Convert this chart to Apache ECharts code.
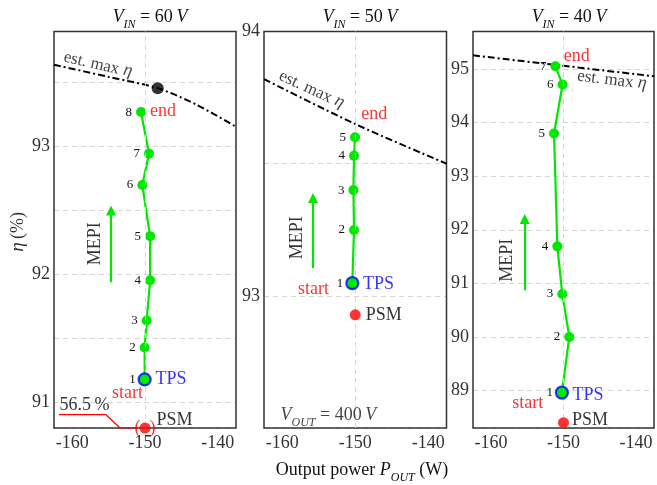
<!DOCTYPE html>
<html>
<head>
<meta charset="utf-8">
<script src="https://cdn.jsdelivr.net/npm/echarts@6/dist/echarts.min.js"></script>
<style>
  html, body { margin: 0; background: #fff; }
  #chart { width: 657px; height: 485px; }
</style>
</head>
<body>
<div id="chart"></div>
<script>
// MEPI steps (output power W, efficiency %) for each input voltage
const steps60 = [[-150.05, 91.18], [-150.05, 91.43], [-149.77, 91.64], [-149.3, 91.955],
  [-149.3, 92.30], [-150.37, 92.70], [-149.45, 92.945], [-150.55, 93.27]];
const steps50 = [[-150.4, 93.048], [-150.17, 93.249], [-150.25, 93.40], [-150.17, 93.53], [-150.03, 93.60]];
const steps40 = [[-150.22, 88.96], [-149.2, 90.0], [-150.17, 90.80], [-150.85, 91.69],
  [-151.31, 93.796], [-150.13, 94.71], [-151.12, 95.05]];

// PSM operating points
const psm60 = [[-150, 90.8]];
const psm50 = [[-150, 92.928]];
const psm40 = [[-150, 88.40]];

// estimated max efficiency curves
const maxEta60 = [[-162.5, 93.64], [-155, 93.545], [-148.25, 93.456], [-143, 93.33], [-137.5, 93.155]];
const maxEta50 = [[-162.5, 93.82], [-150, 93.65], [-137.5, 93.50]];
const maxEta40 = [[-162.5, 95.255], [-137.5, 94.864]];
const maxPoint60 = [[-148.25, 93.456]];

// off-scale marker for PSM at 60 V (56.5 %)
const offScale60 = [[-161.81, 90.904], [-155.36, 90.904], [-153.43, 90.8], [-151.1, 90.8]];

// MEPI arrows [x, yStart, yEnd]
const arrows = [[-154.67, 91.94, 92.50], [-155.79, 93.105, 93.37], [-155.35, 90.87, 92.2]];

// axis ranges
const xRange = [-162.5, -137.5];
const yRanges = [[90.8, 93.9], [92.5, 94], [88.3, 95.7]];
const yGridStep = [0.5, 0.5, 1];
const titles = ['60', '50', '40'];

// text annotations [x, y, text, kind, rotate]
const notes60 = [
  [-156.46, 93.64, 'est. max {i|η}', 'est', -13],
  [-147.53, 93.28, 'end', 'red', 0],
  [-146.43, 91.18, 'TPS', 'blue', 0],
  [-152.4, 91.07, 'start', 'red', 0],
  [-145.95, 90.857, 'PSM', 'black', 0],
  [-158.31, 90.98, '56.5\u2009%', 'black', 0],
  [-156.87, 92.24, 'MEPI', 'black', 90],
  [-150, 90.8, '(\u2002)', 'red', 0]
];
const notes50 = [
  [-156.0, 93.78, 'est. max {i|η}', 'est', -25],
  [-147.4, 93.685, 'end', 'red', 0],
  [-146.8, 93.044, 'TPS', 'blue', 0],
  [-155.72, 93.023, 'start', 'red', 0],
  [-146.1, 92.928, 'PSM', 'black', 0],
  [-158.0, 93.22, 'MEPI', 'black', 90],
  [-153.68, 92.544, '{i|V}{s|OUT}{n| = 400\u2009}{i|V}', 'black', 0]
];
const notes40 = [
  [-143.3, 94.79, 'est. max {i|η}', 'est', -7],
  [-148.18, 95.24, 'end', 'red', 0],
  [-146.6, 88.92, 'TPS', 'blue', 0],
  [-154.94, 88.765, 'start', 'red', 0],
  [-146.35, 88.44, 'PSM', 'black', 0],
  [-157.75, 91.43, 'MEPI', 'black', 90]
];

const FONT = 'Liberation Serif';
const GREEN = '#00e800';
const rich = {
  i: { fontFamily: FONT, fontSize: 18, fontStyle: 'italic', fontWeight: 'normal', color: '#111', lineHeight: 20, verticalAlign: 'top' },
  n: { fontFamily: FONT, fontSize: 18, fontWeight: 'normal', color: '#111', lineHeight: 20, verticalAlign: 'top' },
  s: { fontFamily: FONT, fontSize: 12, fontStyle: 'italic', fontWeight: 'normal', color: '#111', lineHeight: 12, padding: [13, 0, 0, 0] }
};
const noteColor = { red: '#f00', blue: '#00f', black: '#000', est: '#111' };

const chart = echarts.init(document.getElementById('chart'));

const grids = [
  { left: 54, top: 31.5, width: 182, height: 396.5 },
  { left: 264, top: 31.5, width: 182.5, height: 396.5 },
  { left: 473, top: 31.5, width: 183, height: 396.5 }
].map(g => Object.assign(g, { show: true, borderColor: '#333', borderWidth: 1.5, z: 1 }));

const isInt = v => Math.abs(v - Math.round(v)) < 1e-6;

const xAxes = [0, 1, 2].map(i => ({
  type: 'value', gridIndex: i, min: xRange[0], max: xRange[1],
  minInterval: 10, maxInterval: 10,
  axisLine: { show: false }, axisTick: { show: false }, splitLine: { show: false },
  axisLabel: {
    fontFamily: FONT, fontSize: 18, color: '#333', margin: 6,
    formatter: v => (Math.abs(v % 10) < 1e-6 ? String(v) : '')
  }
}));

const yAxes = [0, 1, 2].map(i => ({
  type: 'value', gridIndex: i, min: yRanges[i][0], max: yRanges[i][1],
  minInterval: yGridStep[i], maxInterval: yGridStep[i],
  axisLine: { show: false }, axisTick: { show: false },
  splitLine: { show: true, lineStyle: { color: '#d6d6d6', width: 1, type: [5, 4] } },
  axisLabel: {
    fontFamily: FONT, fontSize: 18, color: '#333', margin: 4,
    formatter: v => (isInt(v) ? String(Math.round(v)) : '')
  }
}));

const allSteps = [steps60, steps50, steps40];
const allPsm = [psm60, psm50, psm40];
const allMax = [maxEta60, maxEta50, maxEta40];
const allNotes = [notes60, notes50, notes40];

const series = [];
for (let i = 0; i < 3; i++) {
  const ax = { xAxisIndex: i, yAxisIndex: i };
  // vertical reference line at -150 W
  series.push(Object.assign({
    type: 'line', data: [], z: 1, silent: true,
    markLine: {
      silent: true, symbol: 'none', label: { show: false },
      lineStyle: { color: '#d6d6d6', width: 1, type: [5, 4] },
      data: [{ xAxis: -150 }]
    }
  }, ax));
  // MEPI arrow
  series.push(Object.assign({
    type: 'line', data: [], z: 3, silent: true,
    markLine: {
      silent: true, symbol: ['none', 'triangle'], symbolSize: 10, label: { show: false },
      lineStyle: { color: GREEN, width: 2.2, type: 'solid' },
      itemStyle: { color: GREEN },
      data: [[{ coord: [arrows[i][0], arrows[i][1]] }, { coord: [arrows[i][0], arrows[i][2]] }]]
    }
  }, ax));
  // estimated max efficiency
  series.push(Object.assign({
    type: 'line', data: allMax[i], showSymbol: false, smooth: 0.3, z: 3, silent: true,
    lineStyle: { color: '#000', width: 2, type: [7, 3, 2, 3] }
  }, ax));
  // MEPI steps
  series.push(Object.assign({
    type: 'line', data: allSteps[i], symbol: 'circle', symbolSize: 10, z: 4,
    lineStyle: { color: GREEN, width: 2.2 }, itemStyle: { color: GREEN },
    label: {
      show: true, position: 'left', distance: 4, fontFamily: FONT, fontSize: 13, color: '#111',
      formatter: p => String(p.dataIndex + 1)
    }
  }, ax));
  // TPS start point
  series.push(Object.assign({
    type: 'scatter', data: [allSteps[i][0]], symbolSize: 12, z: 5, clip: false,
    itemStyle: { color: GREEN, borderColor: '#00f', borderWidth: 2.2 }
  }, ax));
  // PSM point
  series.push(Object.assign({
    type: 'scatter', data: allPsm[i], symbolSize: 11, z: 5, clip: false,
    itemStyle: { color: '#f00' }
  }, ax));
  // annotations
  series.push(Object.assign({
    type: 'scatter', symbolSize: 0, z: 6, clip: false, silent: true,
    data: allNotes[i].map(n => ({
      value: [n[0], n[1]],
      label: {
        show: true, position: 'inside', formatter: n[2], rotate: n[4],
        fontFamily: FONT, fontSize: n[3] === 'est' ? 17 : 18, color: noteColor[n[3]], rich: rich
      }
    }))
  }, ax));
}

// max efficiency point at 60 V
series.push({
  type: 'scatter', xAxisIndex: 0, yAxisIndex: 0, data: maxPoint60, symbolSize: 12, z: 5,
  itemStyle: { color: '#000' }
});
// 56.5 % off-scale leader
series.push({
  type: 'line', xAxisIndex: 0, yAxisIndex: 0, data: offScale60, showSymbol: false, z: 5,
  clip: false, silent: true, lineStyle: { color: '#f00', width: 1.2 }
});

const titleCenters = [145, 355, 564];

chart.setOption({
  animation: false,
  backgroundColor: '#fff',
  title: titles.map((t, i) => ({
    text: '{i|V}{s|IN}{n| = ' + t + '\u2009}{i|V}',
    left: titleCenters[i], top: 3, textAlign: 'center',
    textStyle: { fontWeight: 'normal', rich: rich }
  })).concat([{
    text: '{n|Output power }{i|P}{s|OUT}{n| (W)}',
    left: 357, top: 456, textAlign: 'center',
    textStyle: { fontWeight: 'normal', rich: rich }
  }]),
  grid: grids,
  xAxis: xAxes,
  yAxis: yAxes,
  graphic: [{
    type: 'text', x: 18, y: 232, rotation: Math.PI / 2,
    style: {
      text: '{i|η} {n|(%)}', align: 'center', verticalAlign: 'middle',
      rich: {
        i: { fontFamily: FONT, fontSize: 19, fontStyle: 'italic', fill: '#333' },
        n: { fontFamily: FONT, fontSize: 18, fill: '#333' }
      }
    }
  }],
  series: series
});
</script>
</body>
</html>
